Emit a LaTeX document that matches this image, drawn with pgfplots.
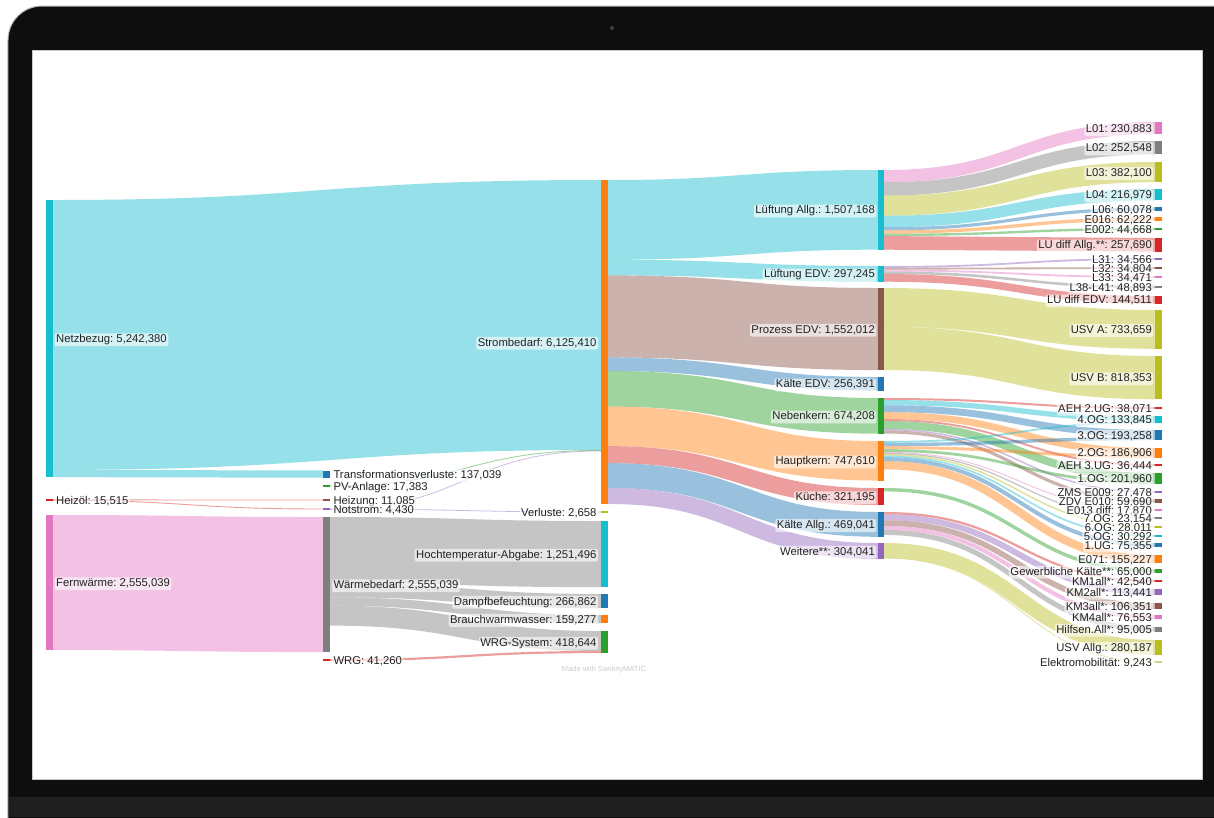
\documentclass[border=0pt]{standalone}
\usepackage{fontspec}
\setmainfont{Liberation Sans}
\usepackage{pgfplots}
\pgfplotsset{compat=1.18}
\frenchspacing
\definecolor{cB}{HTML}{1F77B4}
\definecolor{cO}{HTML}{FF7F0E}
\definecolor{cG}{HTML}{2CA02C}
\definecolor{cR}{HTML}{D62728}
\definecolor{cP}{HTML}{9467BD}
\definecolor{cBr}{HTML}{8C564B}
\definecolor{cPk}{HTML}{E377C2}
\definecolor{cGy}{HTML}{7F7F7F}
\definecolor{cOl}{HTML}{BCBD22}
\definecolor{cC}{HTML}{17BECF}
\definecolor{framec}{HTML}{0E0E0E}
\definecolor{labtext}{HTML}{222222}
% flow: x0, y0(center), x1, y1(center), mid x, thickness, colour
\newcommand\fl[7]{\draw[draw=#7, draw opacity=0.45, line width=#6pt] (#1,#2) .. controls (#5,#2) and (#5,#4) .. (#3,#4);}
% node bar: x0, x1, y0, y1, colour
\newcommand\nb[5]{\addplot[fill=#5, draw=none] coordinates {(#1,#3) (#2,#3) (#2,#4) (#1,#4)} -- cycle;}
\tikzset{lab/.style={font=\fontsize{11.3}{13}\selectfont\frenchspacing, text=labtext, fill=white, fill opacity=0.6, text opacity=1, rounded corners=2pt, inner xsep=1.5pt, inner ysep=1.2pt, text height=8.1pt, text depth=2.4pt, yshift=-1.2pt}}
\newcommand\lR[3]{\node[lab, anchor=east] at (#1,#2) {#3};}
\newcommand\lL[3]{\node[lab, anchor=west] at (#1,#2) {#3};}
\begin{document}
\begin{tikzpicture}
\begin{axis}[width=1214pt, height=817pt, scale only axis, xmin=0, xmax=1214, ymin=0, ymax=817, y dir=reverse, hide axis, clip=false]
% laptop frame
\fill[framec, draw=gray!55, line width=1pt, rounded corners=34pt] (8,6) rectangle (1270,880);
\fill[black!88] (9,797) rectangle (1214,817);
\fill[black!75] (612,28) circle (2pt);
\fill[white, draw=gray!45, line width=0.8pt] (32,50) rectangle (1202,779);
% ---- flows column 0 -> 1 / 2
\fl{53}{334.95}{601}{314.95}{327}{269.9}{cC}
\fl{53}{473.50}{323}{474.10}{188}{7.24}{cC}
\fl{53}{499.90}{323}{500.00}{188}{0.9}{cR}
\fl{53}{500.30}{323}{509.00}{188}{0.9}{cR}
\fl{53}{582.55}{323}{584.55}{188}{135.06}{cPk}
% ---- column 1 -> 2
\fl{330}{486.00}{601}{450.35}{465.5}{0.9}{cG}
\fl{330}{509.00}{601}{450.90}{465.5}{0.8}{cP}
\fl{330}{509.10}{601}{512.00}{465.5}{0.8}{cP}
\fl{330}{550.08}{601}{554.08}{465.5}{66.15}{cGy}
\fl{330}{590.20}{601}{601.05}{465.5}{14.10}{cGy}
\fl{330}{601.46}{601}{619.21}{465.5}{8.42}{cGy}
\fl{330}{615.65}{601}{640.98}{465.5}{19.95}{cGy}
\fl{330}{660.10}{601}{652.04}{465.5}{2.18}{cR}
% ---- column 2 -> 3
\fl{608}{219.84}{878}{209.84}{743}{79.67}{cC}
\fl{608}{267.53}{878}{273.86}{743}{15.71}{cC}
\fl{608}{316.40}{878}{329.02}{743}{82.04}{cBr}
\fl{608}{364.20}{878}{383.78}{743}{13.55}{cB}
\fl{608}{388.79}{878}{415.82}{743}{35.64}{cG}
\fl{608}{426.37}{878}{460.76}{743}{39.52}{cO}
\fl{608}{454.62}{878}{496.49}{743}{16.98}{cR}
\fl{608}{475.51}{878}{524.40}{743}{24.79}{cB}
\fl{608}{495.94}{878}{551.04}{743}{16.07}{cP}
% ---- column 3 -> 4
\fl{884}{176.10}{1155}{128.10}{1019.5}{12.20}{cPk}
\fl{884}{188.88}{1155}{147.68}{1019.5}{13.35}{cGy}
\fl{884}{205.65}{1155}{172.10}{1019.5}{20.20}{cOl}
\fl{884}{221.49}{1155}{194.74}{1019.5}{11.47}{cC}
\fl{884}{228.81}{1155}{209.00}{1019.5}{3.18}{cB}
\fl{884}{232.04}{1155}{219.05}{1019.5}{3.29}{cO}
\fl{884}{234.87}{1155}{229.00}{1019.5}{2.36}{cG}
\fl{884}{242.86}{1155}{244.81}{1019.5}{13.62}{cR}
\fl{884}{266.91}{1155}{259.00}{1019.5}{1.83}{cP}
\fl{884}{268.75}{1155}{268.00}{1019.5}{1.84}{cBr}
\fl{884}{270.58}{1155}{277.00}{1019.5}{1.82}{cPk}
\fl{884}{272.78}{1155}{287.00}{1019.5}{2.58}{cGy}
\fl{884}{277.89}{1155}{299.82}{1019.5}{7.64}{cR}
\fl{884}{307.39}{1155}{329.39}{1019.5}{38.78}{cOl}
\fl{884}{348.41}{1155}{377.63}{1019.5}{43.26}{cOl}
\fl{884}{399.01}{1155}{408.00}{1019.5}{2.01}{cR}
\fl{884}{402.66}{1155}{418.64}{1019.5}{5.29}{cC}
\fl{884}{408.73}{1155}{433.44}{1019.5}{6.87}{cB}
\fl{884}{415.61}{1155}{451.44}{1019.5}{6.87}{cO}
\fl{884}{420.01}{1155}{464.96}{1019.5}{1.93}{cR}
\fl{884}{424.93}{1155}{476.96}{1019.5}{7.93}{cG}
\fl{884}{429.62}{1155}{492.00}{1019.5}{1.45}{cP}
\fl{884}{431.93}{1155}{501.00}{1019.5}{3.16}{cBr}
\fl{884}{441.89}{1155}{422.18}{1019.5}{1.79}{cC}
\fl{884}{444.46}{1155}{438.54}{1019.5}{3.34}{cB}
\fl{884}{447.64}{1155}{456.38}{1019.5}{3.01}{cO}
\fl{884}{450.51}{1155}{482.30}{1019.5}{2.75}{cG}
\fl{884}{452.36}{1155}{510.00}{1019.5}{0.95}{cPk}
\fl{884}{453.45}{1155}{518.00}{1019.5}{1.22}{cGy}
\fl{884}{454.80}{1155}{527.00}{1019.5}{1.48}{cOl}
\fl{884}{456.34}{1155}{536.00}{1019.5}{1.60}{cC}
\fl{884}{459.13}{1155}{545.00}{1019.5}{3.98}{cB}
\fl{884}{465.22}{1155}{559.10}{1019.5}{8.21}{cO}
\fl{884}{489.72}{1155}{571.02}{1019.5}{3.44}{cG}
\fl{884}{513.12}{1155}{581.02}{1019.5}{2.25}{cR}
\fl{884}{517.25}{1155}{592.00}{1019.5}{6.00}{cP}
\fl{884}{523.06}{1155}{606.01}{1019.5}{5.62}{cBr}
\fl{884}{527.89}{1155}{617.02}{1019.5}{4.05}{cPk}
\fl{884}{532.43}{1155}{629.01}{1019.5}{5.02}{cGy}
\fl{884}{550.41}{1155}{647.41}{1019.5}{14.81}{cOl}
\fl{884}{558.05}{1155}{662.00}{1019.5}{0.8}{cOl}
% ---- node bars column 0
\nb{46}{53}{200}{477.1}{cC}
\nb{46}{53}{499.4}{500.6}{cR}
\nb{46}{53}{515}{650.1}{cPk}
% column 1
\nb{323}{330}{470.5}{477.7}{cB}
\nb{323}{330}{485.4}{486.6}{cG}
\nb{323}{330}{499.4}{500.6}{cBr}
\nb{323}{330}{508.4}{509.6}{cP}
\nb{323}{330}{517}{652.1}{cGy}
\nb{323}{330}{659}{661.2}{cR}
% column 2
\nb{601}{608}{180}{504}{cO}
\nb{601}{608}{511.4}{512.6}{cOl}
\nb{601}{608}{521}{587.15}{cC}
\nb{601}{608}{594}{608.1}{cB}
\nb{601}{608}{615}{623.42}{cO}
\nb{601}{608}{631}{653.13}{cG}
% column 3
\nb{878}{884}{170}{249.67}{cC}
\nb{878}{884}{266}{281.71}{cC}
\nb{878}{884}{288}{370.04}{cBr}
\nb{878}{884}{377}{390.55}{cB}
\nb{878}{884}{398}{433.64}{cG}
\nb{878}{884}{441}{480.52}{cO}
\nb{878}{884}{488}{504.98}{cR}
\nb{878}{884}{512}{536.79}{cB}
\nb{878}{884}{543}{559.07}{cP}
% column 4
\nb{1155}{1162}{122}{134.2}{cPk}
\nb{1155}{1162}{141}{154.35}{cGy}
\nb{1155}{1162}{162}{182.2}{cOl}
\nb{1155}{1162}{189}{200.47}{cC}
\nb{1155}{1162}{207.41}{210.59}{cB}
\nb{1155}{1162}{217.4}{220.7}{cO}
\nb{1155}{1162}{227.82}{230.18}{cG}
\nb{1155}{1162}{238}{251.62}{cR}
\nb{1155}{1162}{258.09}{259.91}{cP}
\nb{1155}{1162}{267.08}{268.92}{cBr}
\nb{1155}{1162}{276.09}{277.91}{cPk}
\nb{1155}{1162}{285.71}{288.29}{cGy}
\nb{1155}{1162}{296}{303.64}{cR}
\nb{1155}{1162}{310}{348.78}{cOl}
\nb{1155}{1162}{356}{399.26}{cOl}
\nb{1155}{1162}{407}{409.01}{cR}
\nb{1155}{1162}{416}{423.08}{cC}
\nb{1155}{1162}{430}{440.22}{cB}
\nb{1155}{1162}{448}{457.88}{cO}
\nb{1155}{1162}{464}{465.93}{cR}
\nb{1155}{1162}{473}{483.68}{cG}
\nb{1155}{1162}{491.27}{492.73}{cP}
\nb{1155}{1162}{499.42}{502.58}{cBr}
\nb{1155}{1162}{509.4}{510.6}{cPk}
\nb{1155}{1162}{517.39}{518.61}{cGy}
\nb{1155}{1162}{526.26}{527.74}{cOl}
\nb{1155}{1162}{535.2}{536.8}{cC}
\nb{1155}{1162}{543.01}{546.99}{cB}
\nb{1155}{1162}{555}{563.21}{cO}
\nb{1155}{1162}{569.3}{572.74}{cG}
\nb{1155}{1162}{579.9}{582.15}{cR}
\nb{1155}{1162}{589}{595}{cP}
\nb{1155}{1162}{603.19}{608.81}{cBr}
\nb{1155}{1162}{615}{619.05}{cPk}
\nb{1155}{1162}{626.5}{631.52}{cGy}
\nb{1155}{1162}{640}{654.81}{cOl}
\nb{1155}{1162}{661.4}{662.6}{cOl!60}
% ---- labels column 0
\lL{54.5}{338.5}{Netzbezug: 5,242,380}
\lL{54.5}{500}{Heizöl: 15,515}
\lL{54.5}{582.5}{Fernwärme: 2,555,039}
% column 1
\lL{331.8}{474.1}{Transformationsverluste: 137,039}
\lL{331.8}{486}{PV-Anlage: 17,383}
\lL{331.8}{500}{Heizung: 11,085}
\lL{331.8}{509}{Notstrom: 4,430}
\lL{331.8}{584.5}{Wärmebedarf: 2,555,039}
\lL{331.8}{660}{WRG: 41,260}
% column 2
\lR{598.2}{342}{Strombedarf: 6,125,410}
\lR{598.2}{512}{Verluste: 2,658}
\lR{598.2}{554}{Hochtemperatur-Abgabe: 1,251,496}
\lR{598.2}{601}{Dampfbefeuchtung: 266,862}
\lR{598.2}{619.2}{Brauchwarmwasser: 159,277}
\lR{598.2}{642}{WRG-System: 418,644}
% column 3
\lR{876.5}{209.8}{Lüftung Allg.: 1,507,168}
\lR{876.5}{273.9}{Lüftung EDV: 297,245}
\lR{876.5}{329}{Prozess EDV: 1,552,012}
\lR{876.5}{383.8}{Kälte EDV: 256,391}
\lR{876.5}{415.8}{Nebenkern: 674,208}
\lR{876.5}{460.8}{Hauptkern: 747,610}
\lR{876.5}{496.5}{Küche: 321,195}
\lR{876.5}{524.4}{Kälte Allg.: 469,041}
\lR{876.5}{551}{Weitere**: 304,041}
% column 4
\lR{1153.5}{128.1}{L01: 230,883}
\lR{1153.5}{147.7}{L02: 252,548}
\lR{1153.5}{172.1}{L03: 382,100}
\lR{1153.5}{194.7}{L04: 216,979}
\lR{1153.5}{209}{L06: 60,078}
\lR{1153.5}{219}{E016: 62,222}
\lR{1153.5}{229}{E002: 44,668}
\lR{1153.5}{244.8}{LU diff Allg.**: 257,690}
\lR{1153.5}{259}{L31: 34,566}
\lR{1153.5}{268}{L32: 34,804}
\lR{1153.5}{277}{L33: 34,471}
\lR{1153.5}{287}{L38-L41: 48,893}
\lR{1153.5}{299.8}{LU diff EDV: 144,511}
\lR{1153.5}{329.4}{USV A: 733,659}
\lR{1153.5}{377.6}{USV B: 818,353}
\lR{1153.5}{408}{AEH 2.UG: 38,071}
\lR{1153.5}{419.5}{4.OG: 133,845}
\lR{1153.5}{435.1}{3.OG: 193,258}
\lR{1153.5}{452.9}{2.OG: 186,906}
\lR{1153.5}{465}{AEH 3.UG: 36,444}
\lR{1153.5}{478.3}{1.OG: 201,960}
\lR{1153.5}{492}{ZMS E009: 27,478}
\lR{1153.5}{501}{ZDV E010: 59,690}
\lR{1153.5}{510}{E013 diff: 17,870}
\lR{1153.5}{518}{7.OG: 23,154}
\lR{1153.5}{527}{6.OG: 28,011}
\lR{1153.5}{536}{5.OG: 30,292}
\lR{1153.5}{545}{1.UG: 75,355}
\lR{1153.5}{559.1}{E071: 155,227}
\lR{1153.5}{571}{Gewerbliche Kälte**: 65,000}
\lR{1153.5}{581}{KM1all*: 42,540}
\lR{1153.5}{592}{KM2all*: 113,441}
\lR{1153.5}{606}{KM3all*: 106,351}
\lR{1153.5}{617}{KM4all*: 76,553}
\lR{1153.5}{629}{Hilfsen.All*: 95,005}
\lR{1153.5}{647.4}{USV Allg.: 280,187}
\lR{1153.5}{662}{Elektromobilität: 9,243}
\node[font=\fontsize{7.5}{9}\selectfont, text=black!20] at (604,670) {Made with SankeyMATIC};
\end{axis}
\pgfresetboundingbox
\path[use as bounding box] (current axis.south west) rectangle (current axis.north east);
\end{tikzpicture}
\end{document}
